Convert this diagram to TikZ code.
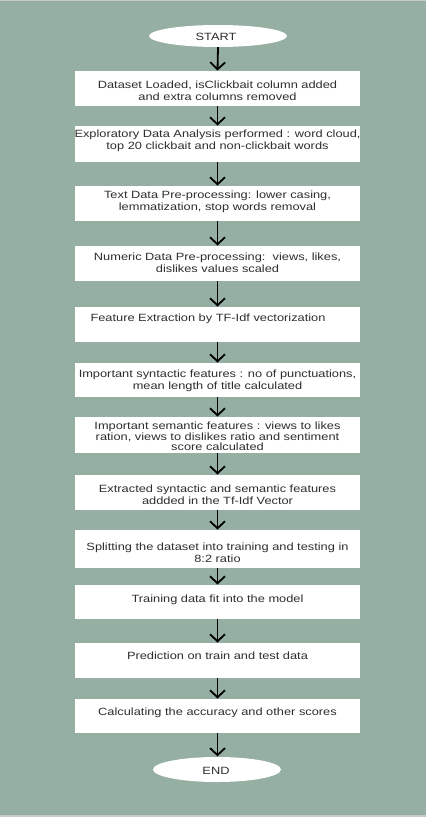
\documentclass[tikz,border=0pt]{standalone}
\usepackage{fontspec}
\setmainfont{Liberation Sans}[FakeStretch=1.22]
\usetikzlibrary{arrows.meta,shapes.geometric}
\definecolor{bg}{HTML}{95B0A2}
\definecolor{strip}{HTML}{C4CCC8}
\definecolor{txtc}{HTML}{2E2E2E}
\tikzset{
  box/.style={fill=white, draw=none, minimum width=285pt, inner sep=0pt, anchor=north},
  txt/.style={text=txtc, align=center, font=\fontsize{10.5}{12.3}\selectfont, inner sep=0pt},
  oval/.style={ellipse, fill=white, draw=none, inner sep=0pt},
  arr/.style={draw=black, line width=1.8pt, -{Straight Barb[length=7pt,width=15pt,line width=1.8pt]}, shorten >=0.5pt}
}
\begin{document}
\begin{tikzpicture}[x=1pt,y=-1pt]
\useasboundingbox (0,0) rectangle (426,817);
\fill[bg] (0,0) rectangle (426,817);
\fill[strip] (0,0) rectangle (426,1.2);
\fill[strip] (0,815) rectangle (426,817);

\node[oval, minimum width=138pt, minimum height=22pt] (start) at (218,36) {};
\node[txt] (tstart) at (216,36.5) {START};

\node[box, minimum height=35pt] (b1) at (217.5,71) {};
\node[txt] (t1) at (217.5,90.5) {Dataset Loaded, isClickbait column added\\and extra columns removed};

\node[box, minimum height=36pt] (b2) at (217.5,126) {};
\node[txt] (t2) at (217.5,140.5) {Exploratory Data Analysis performed : word cloud,\\top 20 clickbait and non-clickbait words};

\node[box, minimum height=35pt] (b3) at (217.5,186) {};
\node[txt] (t3) at (217.5,202) {Text Data Pre-processing: lower casing,\\lemmatization, stop words removal};

\node[box, minimum height=35pt] (b4) at (217.5,246) {};
\node[txt] (t4) at (217.5,262.5) {Numeric Data Pre-processing:\ \ views, likes,\\dislikes values scaled};

\node[box, minimum height=35pt] (b5) at (217.5,307) {};
\node[txt] (t5) at (208,319) {Feature Extraction by TF-Idf vectorization};

\node[box, minimum height=34pt] (b6) at (217.5,363) {};
\node[txt] (t6) at (217.5,380.5) {Important syntactic features : no of punctuations,\\mean length of title calculated};

\node[box, minimum height=36pt] (b7) at (217.5,417) {};
\node[txt, font=\fontsize{10.5}{10.7}\selectfont] (t7) at (217.5,436.5) {Important semantic features : views to likes\\ration, views to dislikes ratio and sentiment\\score calculated};

\node[box, minimum height=35pt] (b8) at (217.5,475) {};
\node[txt] (t8) at (217.5,494.5) {Extracted syntactic and semantic features\\addded in the Tf-Idf Vector};

\node[box, minimum height=38pt] (b9) at (217.5,530) {};
\node[txt] (t9) at (217.5,552.5) {Splitting the dataset into training and testing in\\8:2 ratio};

\node[box, minimum height=34pt] (b10) at (217.5,585) {};
\node[txt] (t10) at (217.5,600) {Training data fit into the model};

\node[box, minimum height=35pt] (b11) at (217.5,643) {};
\node[txt] (t11) at (217.5,656) {Prediction on train and test data};

\node[box, minimum height=34pt] (b12) at (217.5,699) {};
\node[txt] (t12) at (217.5,713) {Calculating the accuracy and other scores};

\node[oval, minimum width=128pt, minimum height=25pt] (end) at (217,769.5) {};
\node[txt] (tend) at (216,771) {END};

\draw[arr] (start.south) -- (b1.north);
\draw[arr] (b1.south) -- (b2.north);
\draw[arr] (b2.south) -- (b3.north);
\draw[arr] (b3.south) -- (b4.north);
\draw[arr] (b4.south) -- (b5.north);
\draw[arr] (b5.south) -- (b6.north);
\draw[arr] (b6.south) -- (b7.north);
\draw[arr] (b7.south) -- (b8.north);
\draw[arr] (b8.south) -- (b9.north);
\draw[arr] (b9.south) -- (b10.north);
\draw[arr] (b10.south) -- (b11.north);
\draw[arr] (b11.south) -- (b12.north);
\draw[arr] (b12.south) -- (b12.south |- end.north);
\end{tikzpicture}
\end{document}
